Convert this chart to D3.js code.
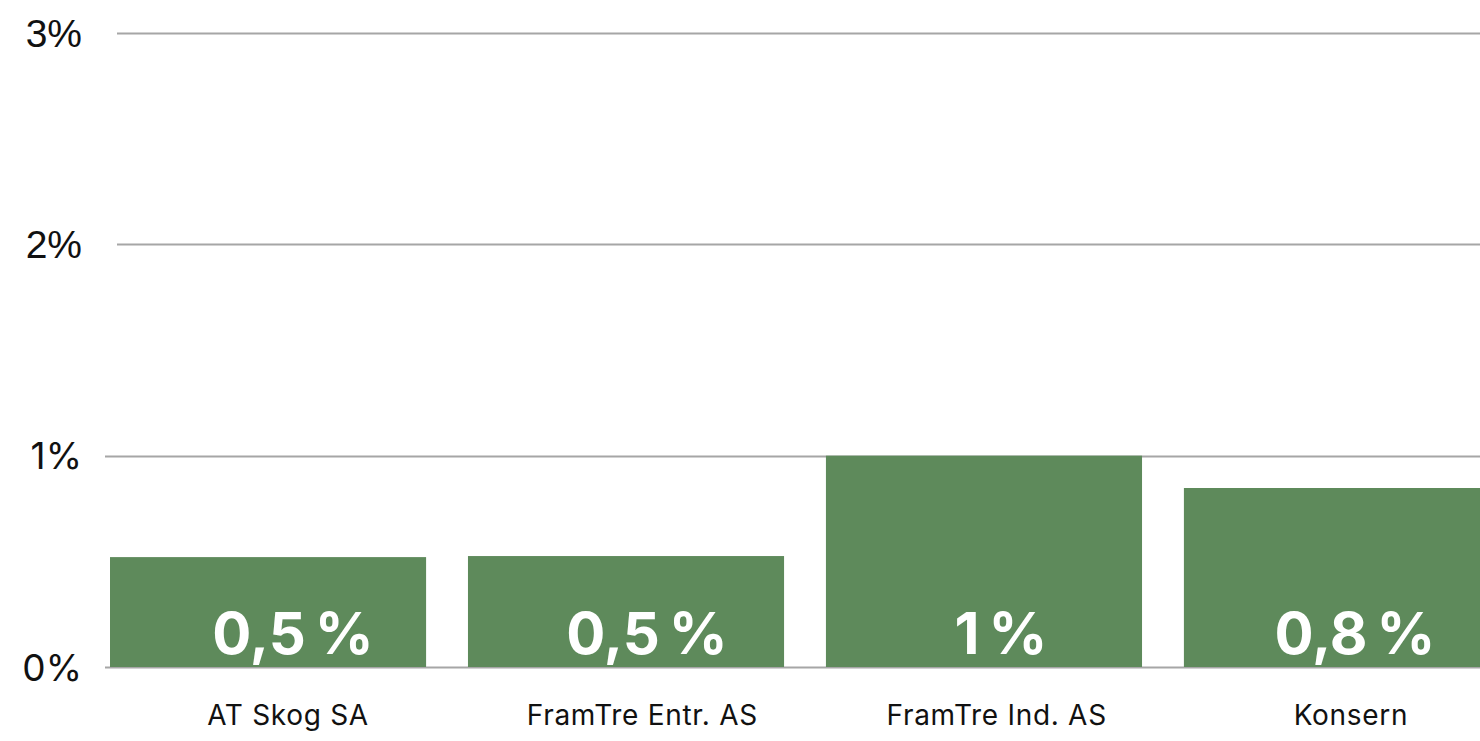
<!DOCTYPE html>
<html><head><meta charset="utf-8">
<script src="https://cdn.jsdelivr.net/npm/d3@7"></script>
<style>html,body{margin:0;padding:0;background:#fff;overflow:hidden}</style>
</head><body>
<svg id="chart" width="1480" height="741"></svg>
<script>
const categories = ["AT Skog SA", "FramTre Entr. AS", "FramTre Ind. AS", "Konsern"];
const values = [0.52, 0.525, 1.0, 0.847];
const valueLabels = ["0,5\u2009%", "0,5\u2009%", "1\u2009%", "0,8\u2009%"];
const yTicks = [0, 1, 2, 3];
const yTickLabels = ["0%", "1%", "2%", "3%"];

const svg = d3.select("#chart");
const y = d3.scaleLinear().domain([0, 3]).range([667, 33]);
const x = d3.scaleBand().domain(categories).range([110, 1500]).paddingInner(0.117).paddingOuter(0);
const lx = d3.scalePoint().domain(categories).range([293, 1355]);
const cx = d3.scalePoint().domain(categories).range([288, 1351]);

// gridlines
const gridStart = {0: 105, 1: 105, 2: 117, 3: 117};
svg.append("g").selectAll("line").data(yTicks).join("line")
  .attr("x1", d => gridStart[d]).attr("x2", 1480)
  .attr("y1", d => Math.round(y(d)) + 0.5).attr("y2", d => Math.round(y(d)) + 0.5)
  .attr("stroke", "#a6a6a6").attr("stroke-width", 2);

// y labels
svg.append("g").selectAll("text").data(yTicks).join("text")
  .attr("x", 82).attr("y", d => y(d))
  .attr("text-anchor", "end").attr("dominant-baseline", "central")
  .attr("font-family", d => d >= 2 ? "'Liberation Sans', Arial, sans-serif" : "Inter, sans-serif")
  .attr("font-size", d => d >= 2 ? 39 : 37)
  .attr("fill", "#111")
  .text((d, i) => yTickLabels[i]);

// bars
svg.append("g").selectAll("rect").data(categories).join("rect")
  .attr("x", d => x(d)).attr("width", x.bandwidth())
  .attr("y", (d, i) => y(values[i])).attr("height", (d, i) => y(0) - y(values[i]))
  .attr("fill", "#5e8a5b");

// value labels
svg.append("g").selectAll("text").data(categories).join("text")
  .attr("x", d => lx(d)).attr("y", 654)
  .attr("text-anchor", "middle")
  .attr("font-family", "Inter, sans-serif").attr("font-weight", 700)
  .attr("font-size", 58).attr("fill", "#fff")
  .text((d, i) => valueLabels[i]);

// category labels
svg.append("g").selectAll("text").data(categories).join("text")
  .attr("x", d => cx(d)).attr("y", 725)
  .attr("text-anchor", "middle")
  .attr("font-family", "Inter, sans-serif")
  .attr("font-size", 28).attr("letter-spacing", 0.7).attr("fill", "#111")
  .text(d => d);
</script>
</body></html>
